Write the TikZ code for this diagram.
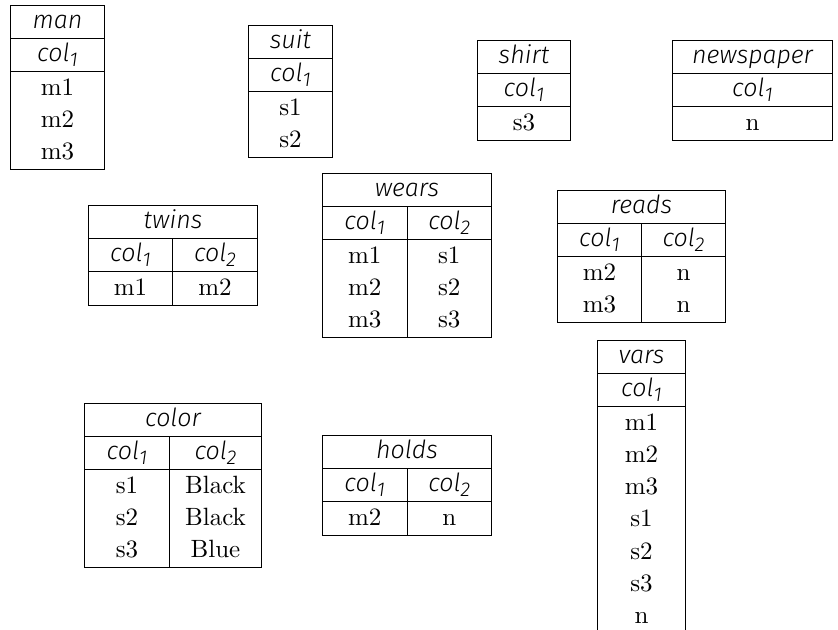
\documentclass[tikz,border=0pt]{standalone}
\usepackage{fontspec}
\newfontfamily\hdfont{Fira Sans}[ItalicFont={Fira Sans Light Italic}]
\usepackage{array}
\newcolumntype{C}[1]{>{\centering\arraybackslash}p{#1}}
\renewcommand{\arraystretch}{1.075}
\setlength{\tabcolsep}{0pt}
\newcommand{\hd}[1]{{\hdfont\itshape #1}}
\newcommand{\colnm}[1]{{\hdfont\itshape col}\raisebox{-0.45ex}{\hdfont\footnotesize\itshape #1}}

\begin{document}
\begin{tikzpicture}[x=0.4pt,y=-0.4pt,
    tbl/.style={anchor=north west,inner sep=0pt,outer sep=0pt}]
  \useasboundingbox (0,0) rectangle (838,630);
  % one-column tables
  \node[tbl] (man) at (10,5) {\begin{tabular}{|C{37.2pt}|}
      \hline \hd{man}\\ \hline \colnm{1}\\ \hline
      m1\\ m2\\ m3\\ \hline
    \end{tabular}};
  \node[tbl] (suit) at (248,25) {\begin{tabular}{|C{33.2pt}|}
      \hline \hd{suit}\\ \hline \colnm{1}\\ \hline
      s1\\ s2\\ \hline
    \end{tabular}};
  \node[tbl] (shirt) at (477,40) {\begin{tabular}{|C{36.8pt}|}
      \hline \hd{shirt}\\ \hline \colnm{1}\\ \hline
      s3\\ \hline
    \end{tabular}};
  \node[tbl] (newspaper) at (672,40) {\begin{tabular}{|C{63.6pt}|}
      \hline \hd{newspaper}\\ \hline \colnm{1}\\ \hline
      n\\ \hline
    \end{tabular}};
  \node[tbl] (vars) at (597,340) {\begin{tabular}{|C{34.8pt}|}
      \hline \hd{vars}\\ \hline \colnm{1}\\ \hline
      m1\\ m2\\ m3\\ s1\\ s2\\ s3\\ n\\ \hline
    \end{tabular}};
  % two-column tables
  \node[tbl] (twins) at (88,205) {\begin{tabular}{|C{33.2pt}|C{33.6pt}|}
      \hline \multicolumn{2}{|c|}{\hd{twins}}\\ \hline \colnm{1} & \colnm{2}\\ \hline
      m1 & m2\\ \hline
    \end{tabular}};
  \node[tbl] (wears) at (322,173) {\begin{tabular}{|C{33.4pt}|C{33.4pt}|}
      \hline \multicolumn{2}{|c|}{\hd{wears}}\\ \hline \colnm{1} & \colnm{2}\\ \hline
      m1 & s1\\ m2 & s2\\ m3 & s3\\ \hline
    \end{tabular}};
  \node[tbl] (reads) at (557,190) {\begin{tabular}{|C{33.2pt}|C{33.2pt}|}
      \hline \multicolumn{2}{|c|}{\hd{reads}}\\ \hline \colnm{1} & \colnm{2}\\ \hline
      m2 & n\\ m3 & n\\ \hline
    \end{tabular}};
  \node[tbl] (color) at (84,403) {\begin{tabular}{|C{33.6pt}|C{36.4pt}|}
      \hline \multicolumn{2}{|c|}{\hd{color}}\\ \hline \colnm{1} & \colnm{2}\\ \hline
      s1 & Black\\ s2 & Black\\ s3 & Blue\\ \hline
    \end{tabular}};
  \node[tbl] (holds) at (322,435) {\begin{tabular}{|C{33.4pt}|C{33.4pt}|}
      \hline \multicolumn{2}{|c|}{\hd{holds}}\\ \hline \colnm{1} & \colnm{2}\\ \hline
      m2 & n\\ \hline
    \end{tabular}};
\end{tikzpicture}
\end{document}
